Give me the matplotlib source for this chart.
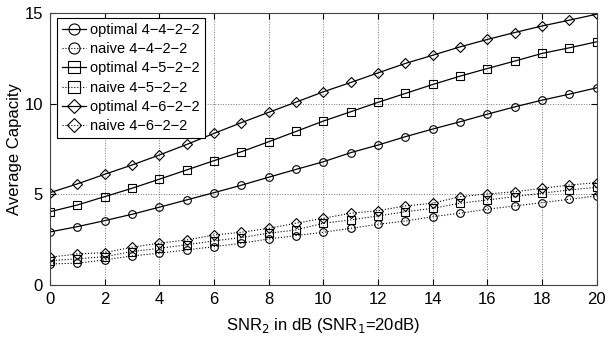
import matplotlib
matplotlib.use("Agg")
import matplotlib.pyplot as plt

plt.rcParams['font.family'] = ['Liberation Sans', 'DejaVu Sans']

snr2 = list(range(21))

# optimal schemes (solid)
opt_442 = [2.94, 3.23, 3.56, 3.91, 4.30, 4.70, 5.10, 5.51, 5.95, 6.38, 6.80,
           7.30, 7.72, 8.18, 8.60, 9.00, 9.42, 9.82, 10.19, 10.52, 10.87]
opt_452 = [4.05, 4.42, 4.88, 5.34, 5.84, 6.35, 6.86, 7.35, 7.90, 8.47, 9.04,
           9.55, 10.07, 10.56, 11.05, 11.51, 11.93, 12.34, 12.76, 13.07, 13.40]
opt_462 = [5.10, 5.58, 6.11, 6.62, 7.17, 7.75, 8.36, 8.95, 9.52, 10.08, 10.65,
           11.16, 11.69, 12.21, 12.66, 13.12, 13.53, 13.91, 14.27, 14.59, 14.92]

# naive schemes (dotted)
nai_442 = [1.18, 1.22, 1.40, 1.62, 1.77, 1.95, 2.13, 2.32, 2.55, 2.74, 2.92,
           3.14, 3.36, 3.54, 3.78, 3.97, 4.19, 4.37, 4.55, 4.74, 4.92]
nai_452 = [1.36, 1.46, 1.58, 1.86, 2.04, 2.23, 2.45, 2.63, 2.87, 3.05, 3.42,
           3.60, 3.82, 4.05, 4.24, 4.52, 4.70, 4.88, 5.07, 5.25, 5.40]
nai_462 = [1.55, 1.73, 1.80, 2.10, 2.32, 2.50, 2.77, 2.92, 3.14, 3.42, 3.69,
           3.97, 4.11, 4.37, 4.52, 4.88, 5.03, 5.15, 5.34, 5.52, 5.65]

labels = ["optimal 4\u22124\u22122\u22122", "naive 4\u22124\u22122\u22122",
          "optimal 4\u22125\u22122\u22122", "naive 4\u22125\u22122\u22122",
          "optimal 4\u22126\u22122\u22122", "naive 4\u22126\u22122\u22122"]

fig = plt.figure(figsize=(6.09, 3.43), dpi=100)
ax = fig.add_axes([0.082, 0.168, 0.898, 0.795])

series = [(opt_442, 'o', '-'), (nai_442, 'o', ':'),
          (opt_452, 's', '-'), (nai_452, 's', ':'),
          (opt_462, 'D', '-'), (nai_462, 'D', ':')]

for (vals, mk, ls), lab in zip(series, labels):
    ms = 5.5 if mk != 'D' else 5.0
    ax.plot(snr2, vals, linestyle=ls, marker=mk, color='black',
            markerfacecolor='none', markeredgewidth=0.8, markersize=ms,
            linewidth=0.9 if ls == '-' else 0.8, label=lab)

ax.set_xlim(0, 20)
ax.set_ylim(0, 15)
ax.set_xticks(range(0, 21, 2))
ax.set_yticks([0, 5, 10, 15])
ax.grid(True, linestyle=':', color='#777777', linewidth=0.7)
ax.tick_params(direction='in', top=True, right=True, labelsize=12, length=4, pad=5)
for sp in ax.spines.values():
    sp.set_color('#444444')

ax.set_xlabel("SNR$_2$ in dB (SNR$_1$=20dB)", fontsize=12, labelpad=6)
ax.set_ylabel("Average Capacity", fontsize=12, labelpad=2)

leg = ax.legend(loc='upper left', fontsize=10.5, frameon=True, fancybox=False,
                edgecolor='black', framealpha=1, borderaxespad=0.35,
                bbox_to_anchor=(0.004, 1.0),
                handlelength=1.6, handletextpad=0.3, labelspacing=0.36,
                borderpad=0.35, markerscale=1.45)
leg.get_frame().set_linewidth(0.8)

fig.savefig("out.png", dpi=100)
